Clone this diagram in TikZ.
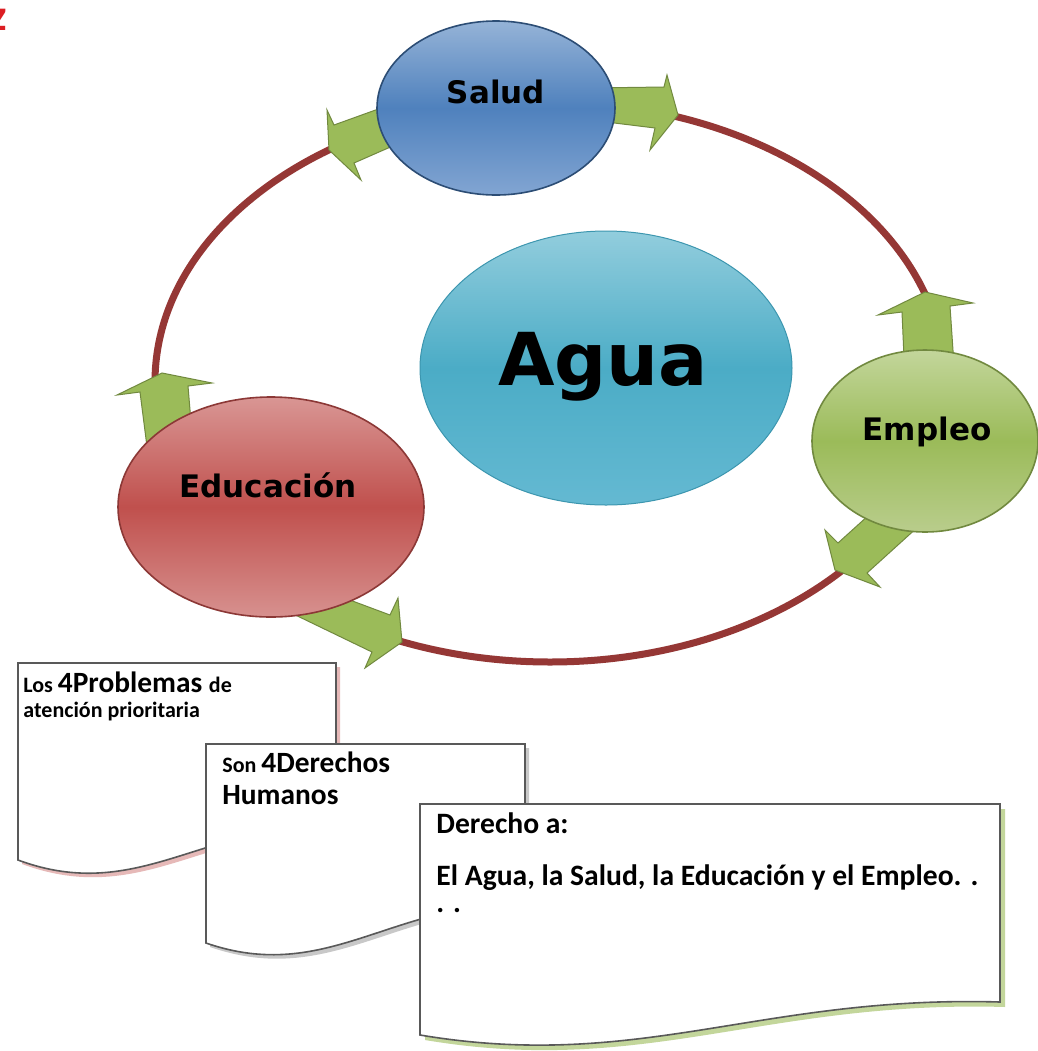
\documentclass[tikz,border=0pt]{standalone}
\usepackage{fontspec}
\setmainfont{Carlito}
\newfontfamily\vfont{DejaVu Sans}
\usetikzlibrary{shapes.geometric}
\definecolor{ringred}{HTML}{953735}
\definecolor{arrgreen}{HTML}{9BBB59}
\definecolor{arrline}{HTML}{71893F}
\definecolor{docline}{HTML}{595959}
\definecolor{zred}{RGB}{220,30,35}
\definecolor{sline}{RGB}{44,77,117}
\definecolor{stop}{RGB}{149,179,215}
\definecolor{sbot}{RGB}{130,165,210}
\definecolor{smid}{RGB}{79,129,189}
\definecolor{aline}{RGB}{60,150,175}
\definecolor{atop}{RGB}{146,205,221}
\definecolor{abot}{RGB}{100,185,210}
\definecolor{amid}{RGB}{75,172,198}
\definecolor{eline}{RGB}{113,137,63}
\definecolor{etop}{RGB}{195,214,155}
\definecolor{ebot}{RGB}{185,205,140}
\definecolor{emid}{RGB}{155,187,89}
\definecolor{uline}{RGB}{140,56,54}
\definecolor{utop}{RGB}{217,150,148}
\definecolor{ubot}{RGB}{215,145,143}
\definecolor{umid}{RGB}{192,80,77}
\definecolor{shpink}{RGB}{230,185,184}
\definecolor{shgray}{RGB}{200,200,200}
\definecolor{shgreen}{RGB}{195,214,155}
\tikzset{
  ringline/.style={draw=ringred, line width=3.5pt},
  blockarr/.style={fill=arrgreen, draw=arrline, line width=0.5pt, line join=miter},
  bubble/.style={ellipse, inner sep=0pt},
  clab/.style={anchor=base, inner sep=0pt, font=\vfont\bfseries\fontsize{15.5}{18}\selectfont, text=black},
  docbox/.style={fill=white, draw=docline, line width=0.8pt},
  dtext/.style={anchor=base west, inner sep=0pt, font=\bfseries\fontsize{14.8}{17}\selectfont},
}
\newcommand{\smf}{\fontsize{11}{13}\selectfont}
\newcommand{\bgf}{\fontsize{14.7}{17}\selectfont}
\begin{document}
\begin{tikzpicture}[x=0.5pt,y=-0.5pt]
\useasboundingbox (0,0) rectangle (1038,1051);
\fill[white] (0,0) rectangle (1038,1051);

% red cut-off letter
\node[anchor=base east, inner sep=0pt, text=zred, font=\bfseries\fontsize{22}{22}\selectfont] (zed) at (7,30) {z};

% ring
\coordinate (ringc) at (550,382);
\draw[ringline] (ringc) ellipse [x radius=395, y radius=280];

% block arrows
\draw[blockarr] (905,380) -- (902,312) -- (878,315) -- (925,292) -- (973,303) -- (950,306) -- (955,380) -- cycle;
\draw[blockarr] (150,470) -- (140,392) -- (117,395) -- (162,373) -- (212,383) -- (188,386) -- (195,470) -- cycle;
\draw[blockarr] (395,103) -- (334,125) -- (327,110) -- (329,150) -- (361,180) -- (354,163) -- (395,145) -- cycle;
\draw[blockarr] (590,88) -- (664,87) -- (667,75) -- (678,115) -- (650,150) -- (655,128) -- (590,120) -- cycle;
\draw[blockarr] (880,505) -- (838,543) -- (825,530) -- (835,570) -- (880,587) -- (867,573) -- (920,525) -- cycle;
\draw[blockarr] (323,590) -- (390,615) -- (398,598) -- (402,642) -- (365,668) -- (372,652) -- (285,610) -- cycle;

% bubbles
\node[bubble, minimum width=119pt, minimum height=87pt, draw=sline, line width=0.8pt,
  top color=stop, bottom color=sbot, middle color=smid] (salud) at (496,108) {};
\node[bubble, minimum width=186pt, minimum height=137pt, draw=aline, line width=0.5pt,
  top color=atop, bottom color=abot, middle color=amid] (agua) at (606,368) {};
\node[bubble, minimum width=113pt, minimum height=91pt, draw=eline, line width=0.8pt,
  top color=etop, bottom color=ebot, middle color=emid] (empleo) at (925,441) {};
\node[bubble, minimum width=153pt, minimum height=110pt, draw=uline, line width=0.8pt,
  top color=utop, bottom color=ubot, middle color=umid] (educ) at (271,507) {};

\node[clab] (tsalud) at (496,103) {Salud};
\node[clab, font=\vfont\bfseries\fontsize{36.5}{40}\selectfont] (tagua) at (603,385) {Agua};
\node[clab] (templeo) at (927,440) {Empleo};
\node[clab] (teduc) at (268,497) {Educación};

% documents
\fill[shpink, shift={(4,4)}] (18,663) -- (336,663) -- (336,828) .. controls (206,820) and (139,905) .. (18,860) -- cycle;
\path[docbox] (18,663) -- (336,663) -- (336,828) .. controls (206,820) and (139,905) .. (18,860) -- cycle;
\node[dtext] (d1a) at (23,692) {\smf Los \bgf 4Problemas \smf de};
\node[dtext] (d1b) at (23,717) {\smf atención prioritaria};

\fill[shgray, shift={(4,4)}] (206,744) -- (525,744) -- (525,905) .. controls (394,900) and (327,985) .. (206,943) -- cycle;
\path[docbox] (206,744) -- (525,744) -- (525,905) .. controls (394,900) and (327,985) .. (206,943) -- cycle;
\node[dtext] (d2a) at (222,772) {\smf Son \bgf 4Derechos};
\node[dtext] (d2b) at (222,804) {\bgf Humanos};

\fill[shgreen, shift={(5,5)}] (420,804) -- (1000,804) -- (1000,1002) .. controls (760,995) and (640,1072) .. (420,1035) -- cycle;
\path[docbox] (420,804) -- (1000,804) -- (1000,1002) .. controls (760,995) and (640,1072) .. (420,1035) -- cycle;
\node[dtext] (d3a) at (436,833) {Derecho a:};
\node[dtext] (d3b) at (436,885) {El Agua, la Salud, la Educación y el Empleo. .};
\node[dtext] (d3c) at (436,912) {. .};
\end{tikzpicture}
\end{document}
